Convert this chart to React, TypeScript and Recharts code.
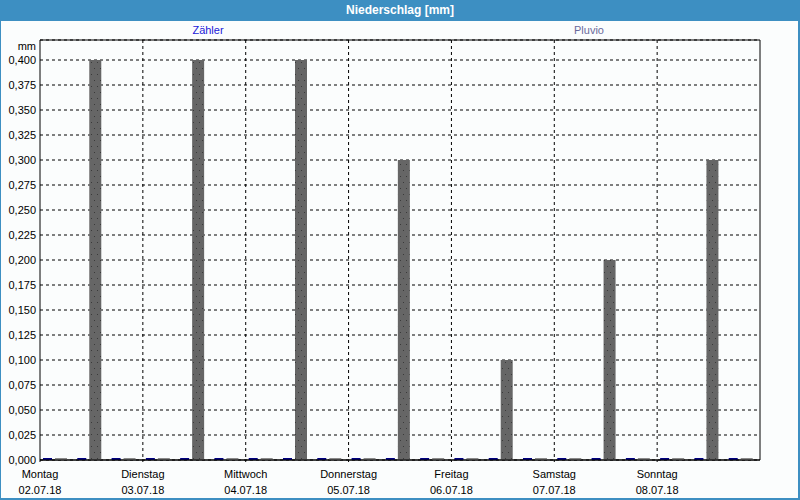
import React from 'react';
import { BarChart, Bar, XAxis, YAxis, CartesianGrid, Cell, ReferenceArea } from 'recharts';

const dayNames = ['Montag', 'Dienstag', 'Mittwoch', 'Donnerstag', 'Freitag', 'Samstag', 'Sonntag'];
const dayDates = ['02.07.18', '03.07.18', '04.07.18', '05.07.18', '06.07.18', '07.07.18', '08.07.18'];
const slots = Array.from({ length: 21 }, (_, i) => i);
const zaehlerValues = [0, 0, 0, 0, 0, 0, 0, 0, 0, 0, 0, 0, 0, 0, 0, 0, 0, 0, 0, 0, 0];
const pluvioValues = [0, 0.4, 0, 0, 0.4, 0, 0, 0.4, 0, 0, 0.3, 0, 0, 0.1, 0, 0, 0.2, 0, 0, 0.3, 0];
const yTicks = [0, 0.025, 0.05, 0.075, 0.1, 0.125, 0.15, 0.175, 0.2, 0.225, 0.25, 0.275, 0.3, 0.325, 0.35, 0.375, 0.4];

const data = slots.map((s, i) => ({ slot: s, zaehler: zaehlerValues[i], pluvio: pluvioValues[i] }));

const FONT = '"Liberation Sans", Arial, sans-serif';
const BLUE = '#3d8fc2';

const DayTick = (props: any) => {
  const { x, y, payload, index } = props;
  if (index % 3 !== 0) return null;
  const d = index / 3;
  const off = payload && payload.offset ? payload.offset : 0;
  const cx = x - off;
  return (
    <g>
      <line x1={cx} x2={cx} y1={y - 8} y2={y - 4} stroke="#000" strokeDasharray="2 2" />
      <text x={cx} y={y + 10} textAnchor="middle" fontSize={11} fontFamily={FONT} fill="#000">{dayNames[d]}</text>
      <text x={cx} y={y + 26} textAnchor="middle" fontSize={11} fontFamily={FONT} fill="#000">{dayDates[d]}</text>
    </g>
  );
};

export default function App() {
  return (
    <div style={{ position: 'absolute', left: 0, top: 0, width: 800, height: 500, background: '#fbfdfd', fontFamily: FONT, overflow: 'hidden' }}>
      <div style={{ position: 'absolute', left: 0, top: 0, width: 800, height: 21, background: BLUE, color: '#fff', fontWeight: 'bold', fontSize: 12, lineHeight: '21px', textAlign: 'center' }}>
        Niederschlag [mm]
      </div>
      <div style={{ position: 'absolute', left: 0, top: 0, width: 800, height: 500, boxSizing: 'border-box', borderLeft: `1px solid ${BLUE}`, borderRight: `2px solid ${BLUE}`, borderBottom: `2px solid ${BLUE}`, pointerEvents: 'none' }} />
      <div style={{ position: 'absolute', left: 158, top: 24, width: 100, textAlign: 'center', fontSize: 11, color: '#1a1ad8' }}>Zähler</div>
      <div style={{ position: 'absolute', left: 539, top: 24, width: 100, textAlign: 'center', fontSize: 11, color: '#6a6a9c' }}>Pluvio</div>
      <div style={{ position: 'absolute', left: 0, top: 40, width: 36, textAlign: 'right', fontSize: 11, color: '#000' }}>mm</div>
      <div style={{ position: 'absolute', left: 0, top: 0 }}>
        <BarChart width={800} height={500} data={data} margin={{ top: 40, right: 40, bottom: 0, left: 0 }} barGap={3}>
          <defs>
            <pattern id="dots" width="6" height="12" patternUnits="userSpaceOnUse">
              <rect x="0" y="0" width="6" height="12" fill="#666666" />
              <rect x="1" y="2" width="1" height="1" fill="#3a3a3a" />
              <rect x="4" y="8" width="1" height="1" fill="#3a3a3a" />
            </pattern>
          </defs>
          <CartesianGrid
            stroke="#000"
            strokeDasharray="3 3"
            vertical
            verticalCoordinatesGenerator={({ offset }: any) =>
              [1, 2, 3, 4, 5, 6].map((i) => offset.left + (i * offset.width) / 7)
            }
          />
          <XAxis
            dataKey="slot"
            interval={0}
            tickLine={false}
            axisLine={{ stroke: '#000' }}
            tick={<DayTick />}
            height={40}
          />
          <YAxis
            domain={[0, 0.42]}
            ticks={yTicks}
            tickFormatter={(v: number) => v.toFixed(3).replace('.', ',')}
            tickLine={false}
            axisLine={false}
            tickSize={4}
            tickMargin={0}
            width={40}
            tick={{ fill: '#000', fontSize: 11, fontFamily: FONT }}
            allowDataOverflow
          />
          <ReferenceArea y1={0} y2={0.42} fill="none" stroke="#000" strokeWidth={1} ifOverflow="visible" />
          <Bar dataKey="zaehler" fill="#000080" barSize={9} minPointSize={2} isAnimationActive={false} />
          <Bar dataKey="pluvio" barSize={12} minPointSize={2} isAnimationActive={false}>
            {pluvioValues.map((v, i) => (
              <Cell key={i} fill={v > 0 ? 'url(#dots)' : '#8a8a8a'} />
            ))}
          </Bar>
          <Bar dataKey="zaehler" fill="none" barSize={2} isAnimationActive={false} />
        </BarChart>
      </div>
    </div>
  );
}
